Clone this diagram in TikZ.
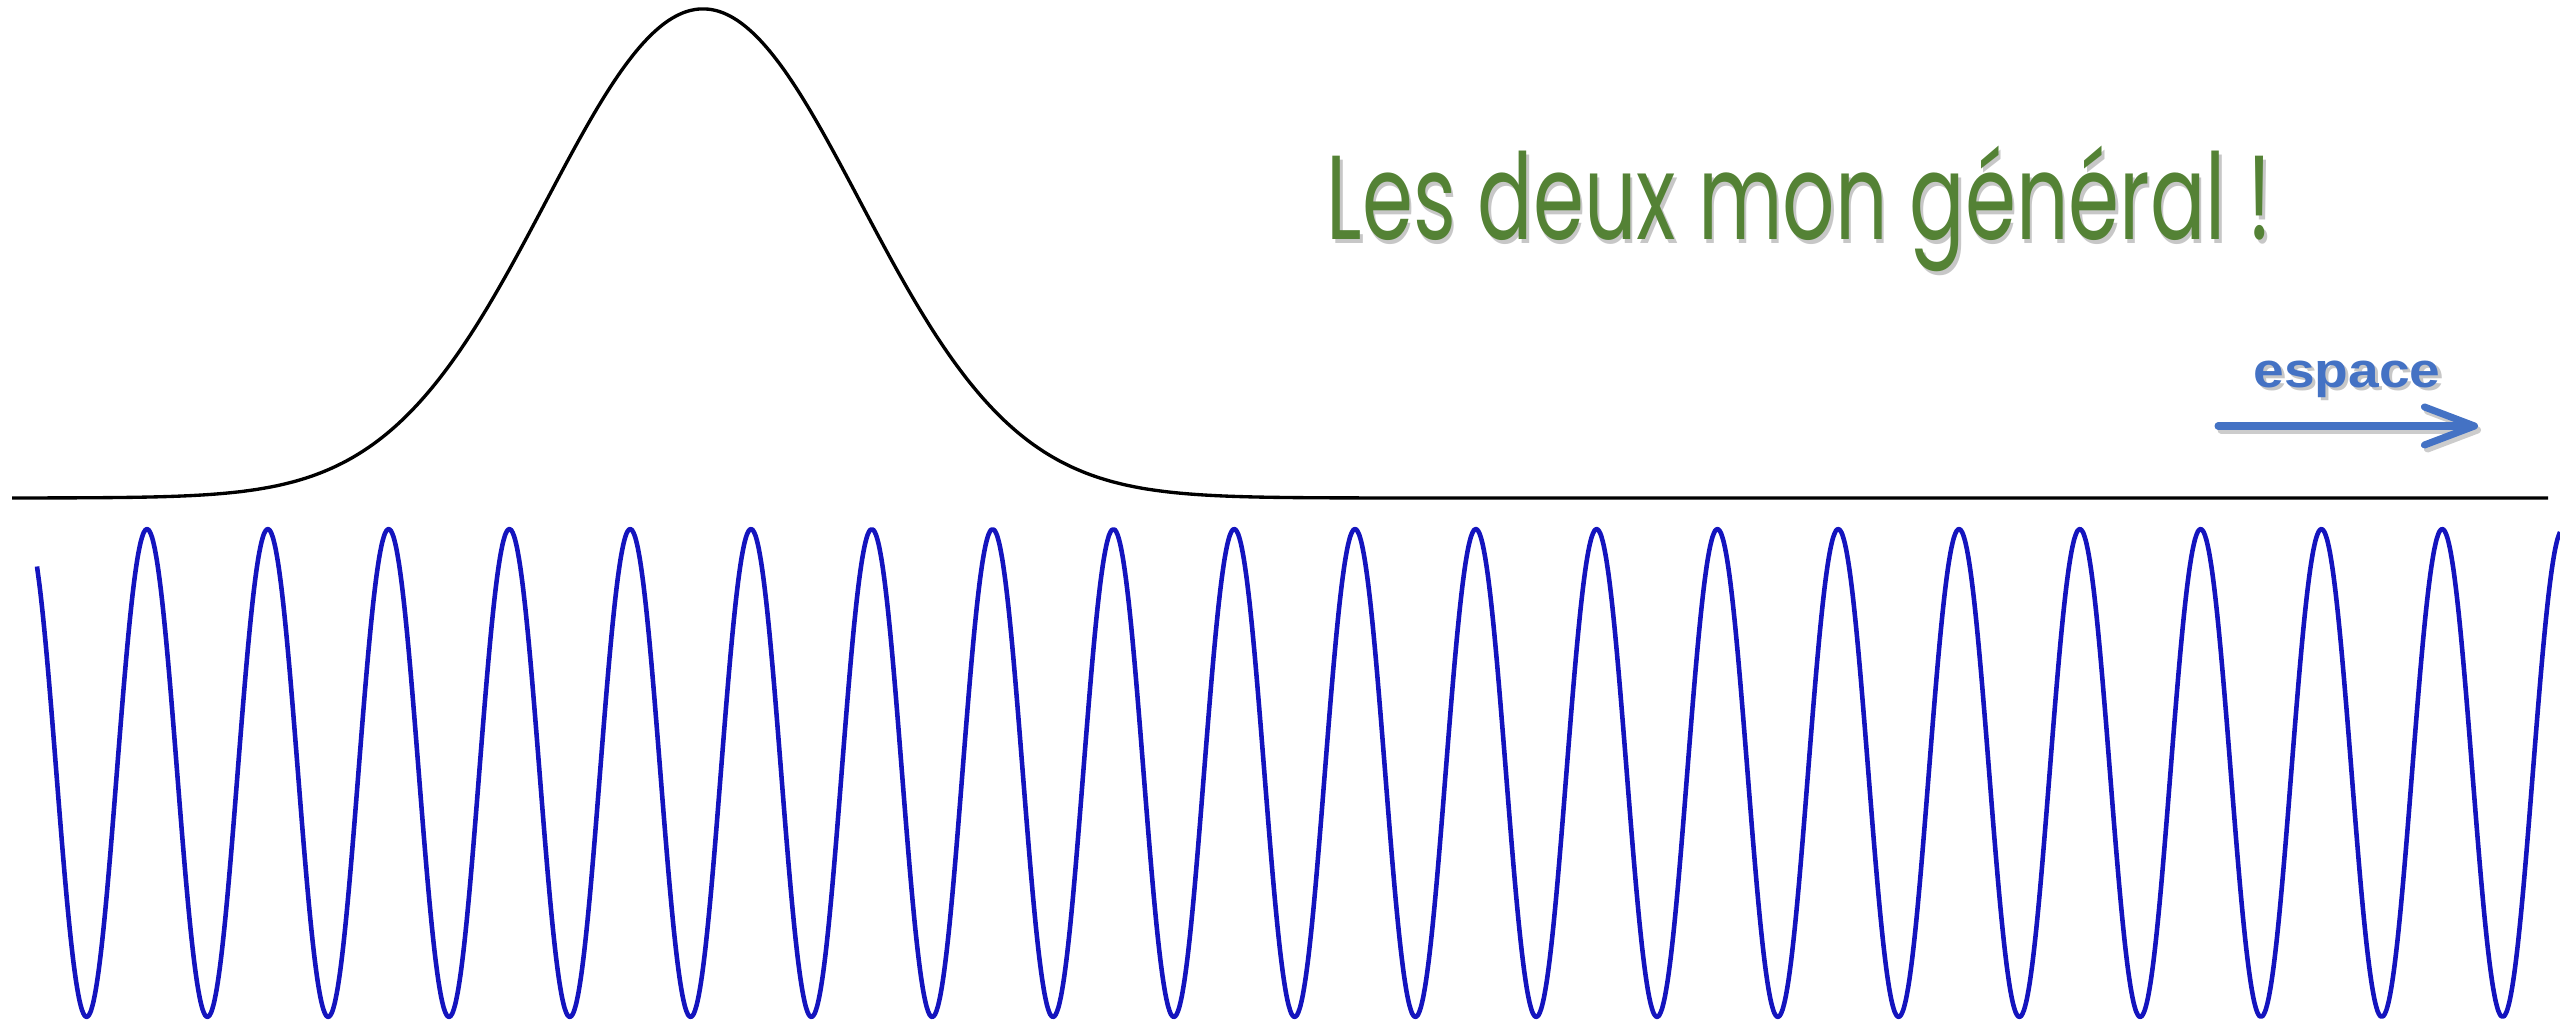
\documentclass[tikz,border=0pt]{standalone}
\usepackage{fontspec}
\usepackage{tikz}
\usetikzlibrary{arrows.meta, positioning, calc}
\newfontfamily\titlefont{Poppins}
\newfontfamily\labelfont{Liberation Sans}
\definecolor{titlegreen}{RGB}{84,130,53}
\definecolor{labelblue}{RGB}{68,114,196}
\definecolor{waveblue}{RGB}{20,20,190}
% text with a soft drop shadow
\newcommand{\withshadow}[2]{\makebox[0pt][l]{\hspace{#1}\raisebox{-#1}{\textcolor{black!22}{#2}}}#2}

\begin{document}
\begin{tikzpicture}[x=0.01cm, y=-0.01cm,
  pulse/.style={black, line width=0.95pt, line join=round},
  wave/.style={waveblue, line width=1.3pt, line join=round},
  title/.style={anchor=base west, inner sep=0pt, text=titlegreen, font=\titlefont\fontsize{34}{40}\selectfont},
  axislabel/.style={anchor=base, inner sep=0pt, text=labelblue, font=\labelfont\bfseries\fontsize{14}{16}\selectfont},
  arrow/.style={-{Straight Barb[length=0.5cm, width=0.38cm, round]}, labelblue, line width=2pt, line cap=round}
]
  \useasboundingbox (0,0) rectangle (2560,1022);

  % wave packet envelope and its base line
  \draw[pulse] plot[smooth, domain=12:2548, samples=500]
    (\x, {498-489*exp(max(-9,-((\x-703)/157)^2/2))});

  % carrier wave
  \draw[wave] plot[smooth, domain=37:2560, samples=900]
    (\x, {773-244*cos((\x-147)/120.8*360)});

  % title
  \node[title] (title) at (1326,240) {\resizebox{9.45cm}{\height}{\withshadow{1pt}{Les deux mon général !}}};

  % direction of space
  \node[axislabel] (espace) at (2347,388) {\resizebox{1.87cm}{\height}{\withshadow{0.8pt}{espace}}};
  \coordinate (arrowstart) at (2218,426);
  \coordinate (arrowend) at (2478,426);
  \draw[arrow, black!20] ($(arrowstart)+(3,4)$) -- ($(arrowend)+(3,4)$);
  \draw[arrow] (arrowstart) -- (arrowend);
\end{tikzpicture}
\end{document}
